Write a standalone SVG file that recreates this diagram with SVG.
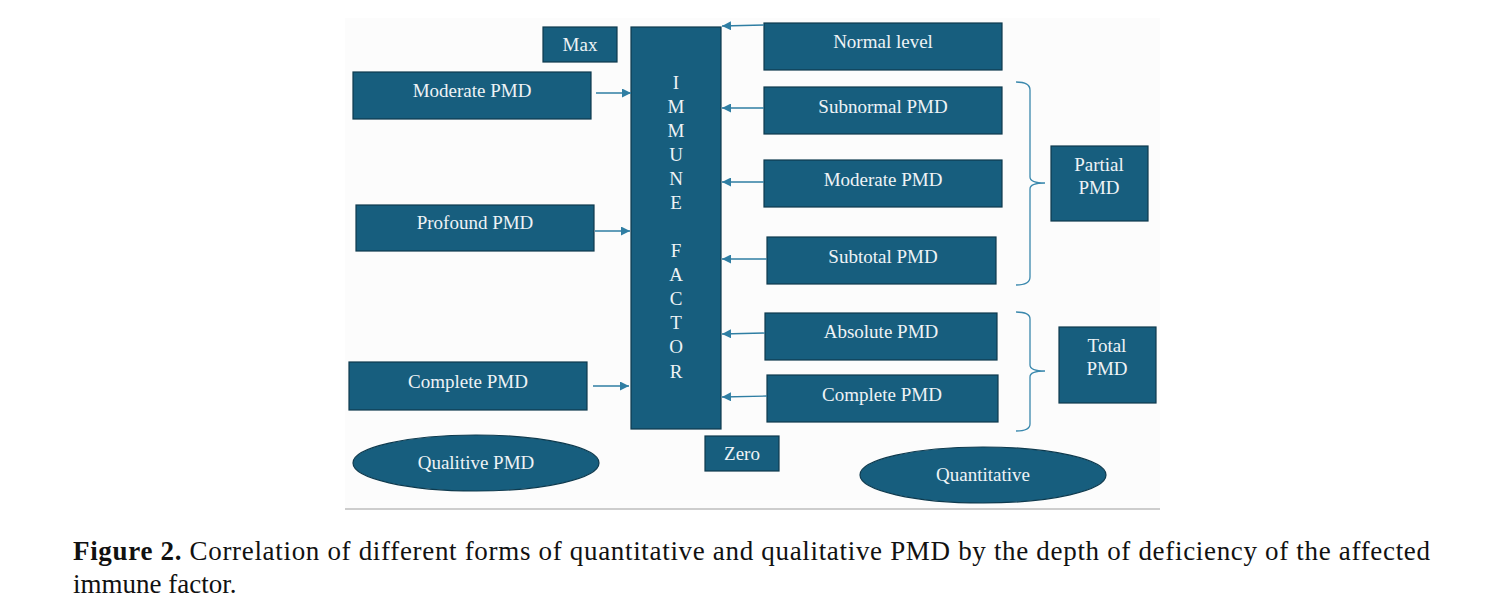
<svg xmlns="http://www.w3.org/2000/svg" width="1499" height="613" viewBox="0 0 1499 613">
<defs>
<marker id="ah" viewBox="0 0 10 10" refX="10" refY="5" markerWidth="9" markerHeight="9" markerUnits="userSpaceOnUse" orient="auto">
<path d="M0,0 L10,5 L0,10 z" fill="#2f7ea3"/>
</marker>
<style>
.box{fill:#175e7e;stroke:#0e3a4e;stroke-width:1.2}
.t{font-family:"Liberation Serif","DejaVu Serif",serif;font-size:19px;fill:#eef3f6;text-anchor:middle}
.c{stroke:#2f7ea3;stroke-width:1.3;fill:none}
.br{stroke:#3a88ad;stroke-width:1.3;fill:none}
.cap{font-family:"Liberation Serif","DejaVu Serif",serif;font-size:27px;fill:#111}
</style>
</defs>
<rect x="0" y="0" width="1499" height="613" fill="#fff"/>
<rect x="345" y="18" width="815" height="490" fill="#fcfcfc"/>
<line x1="345" y1="509" x2="1160" y2="509" stroke="#bdbdbd" stroke-width="1.3"/>

<g id="immune-factor">
<rect class="box" x="631" y="27" width="90" height="402"/>
<g class="t">
<text x="676" y="89">I</text><text x="676" y="113">M</text><text x="676" y="137">M</text><text x="676" y="161">U</text><text x="676" y="185">N</text><text x="676" y="209">E</text>
<text x="676" y="257">F</text><text x="676" y="281">A</text><text x="676" y="305">C</text><text x="676" y="329">T</text><text x="676" y="353">O</text><text x="676" y="378">R</text>
</g>
</g>
<g id="max"><rect class="box" x="543" y="27" width="74" height="35"/><text class="t" x="580" y="51">Max</text></g>
<g id="zero"><rect class="box" x="705" y="436" width="74" height="35"/><text class="t" x="742" y="460">Zero</text></g>
<g id="moderate-left"><rect class="box" x="353" y="72" width="238" height="47"/><text class="t" x="472" y="97">Moderate PMD</text></g>
<g id="profound"><rect class="box" x="356" y="205" width="238" height="46"/><text class="t" x="475" y="229">Profound PMD</text></g>
<g id="complete-left"><rect class="box" x="349" y="362" width="238" height="48"/><text class="t" x="468" y="388">Complete PMD</text></g>
<g id="qualitive"><ellipse class="box" cx="476" cy="463" rx="123" ry="28"/><text class="t" x="476" y="469">Qualitive PMD</text></g>
<g id="normal"><rect class="box" x="764" y="23" width="238" height="47"/><text class="t" x="883" y="48">Normal level</text></g>
<g id="subnormal"><rect class="box" x="764" y="87" width="238" height="47"/><text class="t" x="883" y="113">Subnormal PMD</text></g>
<g id="moderate-right"><rect class="box" x="764" y="160" width="238" height="47"/><text class="t" x="883" y="186">Moderate PMD</text></g>
<g id="subtotal"><rect class="box" x="767" y="237" width="229" height="47"/><text class="t" x="883" y="263">Subtotal PMD</text></g>
<g id="absolute"><rect class="box" x="765" y="313" width="232" height="47"/><text class="t" x="881" y="338">Absolute PMD</text></g>
<g id="complete-right"><rect class="box" x="767" y="375" width="231" height="47"/><text class="t" x="882" y="401">Complete PMD</text></g>
<g id="partial"><rect class="box" x="1051" y="146" width="97" height="75"/><text class="t" x="1099" y="171">Partial</text><text class="t" x="1099" y="194">PMD</text></g>
<g id="total"><rect class="box" x="1059" y="327" width="97" height="76"/><text class="t" x="1107" y="352">Total</text><text class="t" x="1107" y="375">PMD</text></g>
<g id="quantitative"><ellipse class="box" cx="983" cy="475" rx="123" ry="28"/><text class="t" x="983" y="481">Quantitative</text></g>

<g id="connectors">
<line class="c" x1="596" y1="93" x2="631" y2="93" marker-end="url(#ah)"/>
<line class="c" x1="595" y1="231" x2="630" y2="231" marker-end="url(#ah)"/>
<line class="c" x1="593" y1="386" x2="629" y2="386" marker-end="url(#ah)"/>
<line class="c" x1="764" y1="25" x2="722" y2="26" marker-end="url(#ah)"/>
<line class="c" x1="764" y1="108" x2="722" y2="108" marker-end="url(#ah)"/>
<line class="c" x1="764" y1="182" x2="722" y2="182" marker-end="url(#ah)"/>
<line class="c" x1="767" y1="259" x2="722" y2="259" marker-end="url(#ah)"/>
<line class="c" x1="765" y1="333" x2="722" y2="334" marker-end="url(#ah)"/>
<line class="c" x1="767" y1="396" x2="722" y2="397" marker-end="url(#ah)"/>
<path class="br" d="M1016,82 Q1030,82 1030,90 L1030,177 Q1030,183 1045,183 Q1030,183 1030,189 L1030,277 Q1030,285 1016,285"/>
<path class="br" d="M1016,312 Q1030,312 1030,319 L1030,365 Q1030,371 1045,371 Q1030,371 1030,377 L1030,424 Q1030,431 1016,431"/>
</g>

<text class="cap" x="73" y="560" textLength="1357" lengthAdjust="spacing"><tspan font-weight="bold">Figure 2.</tspan> Correlation of different forms of quantitative and qualitative PMD by the depth of deficiency of the affected</text>
<text class="cap" x="73" y="593">immune factor.</text>
</svg>
